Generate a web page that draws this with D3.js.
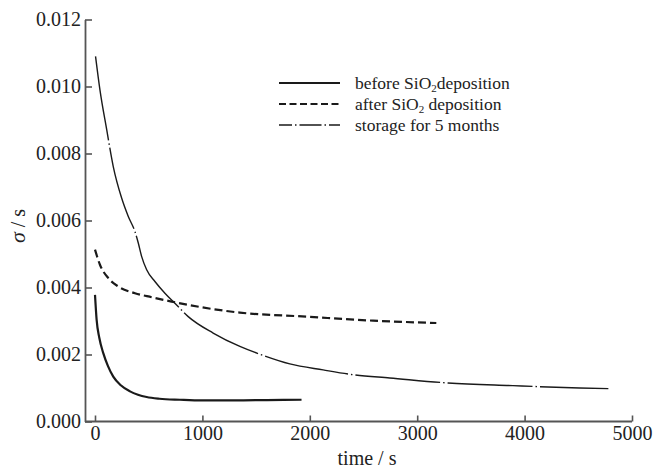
<!DOCTYPE html>
<html>
<head>
<meta charset="utf-8">
<script src="https://cdn.jsdelivr.net/npm/d3@7"></script>
<style>
  body { margin: 0; background: #fff; }
  svg text { font-family: "Liberation Serif", "Times New Roman", serif; fill: #222; }
</style>
</head>
<body>
<svg width="658" height="468"></svg>
<script>
// values: time (s) and sigma (s)
const beforeT = [0, 15, 40, 77, 120, 170, 240, 326, 400, 481, 600, 791, 1000, 1300, 1600, 1923];
const beforeV = [0.00378, 0.00304, 0.00250, 0.00204, 0.00166, 0.00134, 0.00108, 0.00090, 0.00080, 0.00073, 0.00068, 0.00065, 0.00063, 0.00063, 0.00064, 0.00065];

const afterT = [0, 46, 124, 217, 372, 527, 713, 992, 1349, 1969, 2589, 3178];
const afterV = [0.00513, 0.00468, 0.00428, 0.00403, 0.00383, 0.00371, 0.00358, 0.00341, 0.00325, 0.00313, 0.00301, 0.00294];

const storageT = [5, 46, 109, 170, 248, 310, 372, 403, 434, 481, 558, 651, 744, 868, 1100, 1349, 1551, 1814, 2124, 2419, 2744, 3287, 3891, 4512, 4780];
const storageV = [0.01090, 0.00990, 0.00871, 0.00761, 0.00667, 0.00612, 0.00567, 0.00533, 0.00493, 0.00453, 0.00418, 0.00383, 0.00353, 0.00313, 0.00264, 0.00224, 0.00199, 0.00172, 0.00154, 0.00139, 0.00130, 0.00115, 0.00107, 0.00100, 0.00098];

const xTicks = [0, 1000, 2000, 3000, 4000, 5000];
const yTicks = [0, 0.002, 0.004, 0.006, 0.008, 0.010, 0.012];

const svg = d3.select("svg");

const x = d3.scaleLinear().domain([0, 5000]).range([95, 632]);
const y = d3.scaleLinear().domain([0, 0.012]).range([421.5, 19.5]);
const axisColor = "#555";

// axes
const gx = svg.append("g")
    .attr("transform", "translate(0,421.5)")
    .call(d3.axisBottom(x).tickValues(xTicks).tickFormat(d3.format("d"))
        .tickSizeInner(-6).tickSizeOuter(0).tickPadding(4));
gx.select(".domain").remove();
gx.selectAll("line").attr("stroke", axisColor).attr("stroke-width", 1.6);
gx.selectAll("text").attr("font-size", 20).attr("font-family", "Liberation Serif").attr("fill", "#222");

svg.append("line")
    .attr("x1", 85).attr("x2", x(5000))
    .attr("y1", 421.5).attr("y2", 421.5)
    .attr("stroke", axisColor).attr("stroke-width", 1.8);

const gy = svg.append("g")
    .attr("transform", "translate(85,0)")
    .call(d3.axisLeft(y).tickValues(yTicks).tickFormat(d3.format(".3f"))
        .tickSizeInner(-7).tickSizeOuter(0).tickPadding(4));
gy.select(".domain").attr("stroke", axisColor).attr("stroke-width", 1.8);
gy.selectAll("line").attr("stroke", axisColor).attr("stroke-width", 1.6);
gy.selectAll("text").attr("font-size", 20).attr("font-family", "Liberation Serif").attr("fill", "#222");

// axis titles
svg.append("text")
    .attr("x", 367).attr("y", 465)
    .attr("text-anchor", "middle")
    .attr("font-size", 20)
    .text("time / s");

const yTitle = svg.append("text")
    .attr("transform", "translate(25,226) rotate(-90)")
    .attr("text-anchor", "middle")
    .attr("font-size", 20);
yTitle.append("tspan").attr("font-style", "italic").attr("font-size", 22).text("σ");
yTitle.append("tspan").text(" / s");

// curves
const line = d3.line()
    .x(d => x(d[0]))
    .y(d => y(d[1]))
    .curve(d3.curveMonotoneX);

const series = [
    { name: "before", t: beforeT, v: beforeV, width: 2.2, dash: null, legDash: null },
    { name: "after", t: afterT, v: afterV, width: 2.2, dash: "8,4", legDash: "7,3.5" },
    { name: "storage", t: storageT, v: storageV, width: 1.4, dash: "85,3,1.5,3", legDash: "13,3,1.5,3,22,3,1.5,3,20" }
];

svg.append("g").selectAll("path")
    .data(series)
    .enter().append("path")
    .attr("d", s => line(s.t.map((t, i) => [t, s.v[i]])))
    .attr("fill", "none")
    .attr("stroke", "#1a1a1a")
    .attr("stroke-width", s => s.width)
    .attr("stroke-dasharray", s => s.dash);

// legend
const legendRows = [83, 104, 125];
const legend = svg.append("g").selectAll("g")
    .data(series)
    .enter().append("g")
    .attr("transform", (s, i) => "translate(0," + legendRows[i] + ")");

legend.append("line")
    .attr("x1", 279).attr("x2", 340)
    .attr("stroke", "#1a1a1a")
    .attr("stroke-width", s => s.width)
    .attr("stroke-dasharray", s => s.legDash);

const legendText = legend.append("text")
    .attr("x", 355).attr("dy", "0.32em")
    .attr("font-size", 17.5);

legendText.each(function(s) {
    const t = d3.select(this);
    if (s.name === "storage") {
        t.text("storage for 5 months");
        return;
    }
    t.append("tspan").text(s.name === "before" ? "before SiO" : "after SiO");
    t.append("tspan").attr("font-size", 11).attr("dy", 3).text("2");
    t.append("tspan").attr("dy", -3).text(s.name === "before" ? "deposition" : " deposition");
});
</script>
</body>
</html>
